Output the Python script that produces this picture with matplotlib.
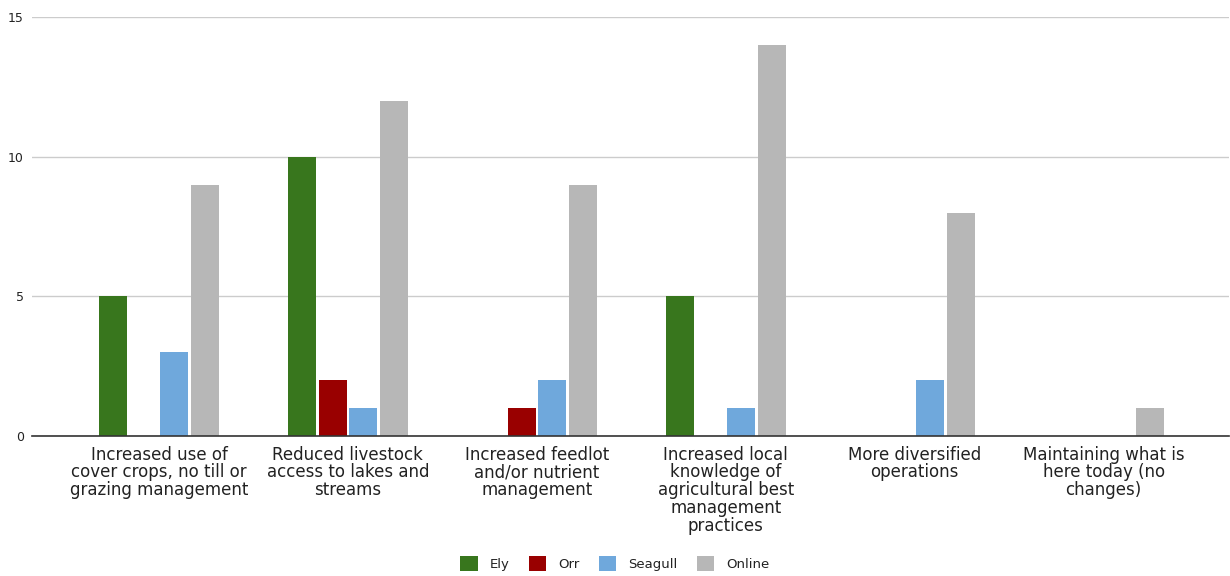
import numpy as np
import matplotlib.pyplot as plt
from matplotlib.patches import Patch

categories = [
    "Increased use of\ncover crops, no till or\ngrazing management",
    "Reduced livestock\naccess to lakes and\nstreams",
    "Increased feedlot\nand/or nutrient\nmanagement",
    "Increased local\nknowledge of\nagricultural best\nmanagement\npractices",
    "More diversified\noperations",
    "Maintaining what is\nhere today (no\nchanges)",
]
series = ["Ely", "Orr", "Seagull", "Online"]
ely = [5, 10, 0, 5, 0, 0]
orr = [0, 2, 1, 0, 0, 0]
seagull = [3, 1, 2, 1, 2, 0]
online = [9, 12, 9, 14, 8, 1]
colors = ["#38761d", "#990000", "#6fa8dc", "#b7b7b7"]

fig = plt.figure(figsize=(12.3, 5.76), dpi=100)
ax = fig.add_axes([0.026, 0.243, 0.973, 0.7275])

x = np.arange(len(categories))
step = 0.162
width = 0.148
for i, (vals, c) in enumerate(zip([ely, orr, seagull, online], colors)):
    ax.bar(x + (i - 1.5) * step, vals, width=width, color=c, zorder=3)

ax.set_xlim(-0.672, 5.662)
ax.set_ylim(0, 15)
ax.set_yticks([0, 5, 10, 15])
ax.yaxis.grid(True, color="#cccccc", linewidth=1, zorder=0)
ax.tick_params(axis="y", length=0, labelsize=9, colors="#222222", pad=6)
ax.tick_params(axis="x", length=0, pad=7)
ax.set_xticks(x)
ax.set_xticklabels(categories, fontsize=12, color="#222222", linespacing=0.98)
for s in ["top", "right", "left"]:
    ax.spines[s].set_visible(False)
ax.spines["bottom"].set_color("#333333")
ax.spines["bottom"].set_linewidth(1.2)
ax.spines["bottom"].set_zorder(4)

handles = [Patch(facecolor=c, edgecolor="none", label=s) for s, c in zip(series, colors)]
fig.legend(handles=handles, loc="lower center", bbox_to_anchor=(0.5, -0.012), ncol=4,
           frameon=False, fontsize=9.5, labelcolor="#222222", handlelength=1.3,
           handleheight=1.3, columnspacing=1.5, handletextpad=0.9)

fig.savefig("out.png", dpi=100)
